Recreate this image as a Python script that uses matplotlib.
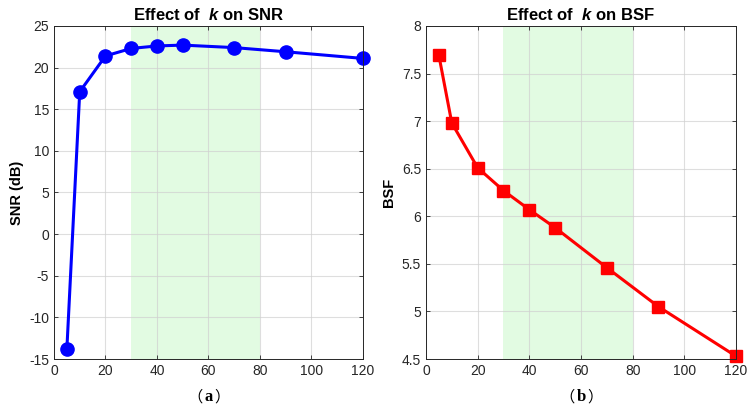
import matplotlib.pyplot as plt

k = [5, 10, 20, 30, 40, 50, 70, 90, 120]
snr = [-13.8, 17.1, 21.4, 22.3, 22.6, 22.7, 22.4, 21.9, 21.1]
bsf = [7.69, 6.98, 6.51, 6.27, 6.07, 5.88, 5.46, 5.05, 4.53]
band = (30, 80)

plt.rcParams['font.family'] = ['Liberation Sans', 'Noto Sans CJK SC']
plt.rcParams['font.size'] = 10
plt.rcParams['axes.unicode_minus'] = False
plt.rcParams['mathtext.fontset'] = 'custom'
plt.rcParams['mathtext.bfit'] = 'Liberation Sans:italic:bold'

fig = plt.figure(figsize=(7.53, 4.12), dpi=100)
ax1 = fig.add_axes([0.0717, 0.1286, 0.4103, 0.8084])
ax2 = fig.add_axes([0.5657, 0.1286, 0.4117, 0.8084])


def style(ax):
    ax.axvspan(*band, color='#e2fbe2', zorder=0, lw=0)
    ax.grid(True, color='#d0d0d0', lw=0.8, alpha=0.7)
    ax.set_axisbelow(True)
    ax.tick_params(direction='in', top=True, right=True, colors='#262626',
                   length=3, width=0.6, labelcolor='#262626')
    for s in ax.spines.values():
        s.set_color('#262626')
        s.set_linewidth(0.7)
    ax.set_xlim(0, 120)
    ax.set_xticks(range(0, 121, 20))


style(ax1)
ax1.plot(k, snr, color='#0000ff', lw=2.2, marker='o', markersize=9.5, clip_on=False)
ax1.set_ylim(-15, 25)
ax1.set_yticks(range(-15, 26, 5))
ax1.set_ylabel('SNR (dB)', fontweight='bold', fontsize=10.5)
ax1.set_title(r'Effect of  $\bfit{k}$ on SNR', fontweight='bold', fontsize=12, pad=4)

style(ax2)
ax2.plot(k, bsf, color='#ff0000', lw=2.2, marker='s', markersize=8, clip_on=False)
ax2.set_ylim(4.5, 8)
ax2.set_yticks([4.5, 5, 5.5, 6, 6.5, 7, 7.5, 8])
ax2.set_yticklabels(['4.5', '5', '5.5', '6', '6.5', '7', '7.5', '8'])
ax2.set_ylabel('BSF', fontweight='bold', fontsize=10.5)
ax2.set_title(r'Effect of  $\bfit{k}$ on BSF', fontweight='bold', fontsize=12, pad=4)

for ax, lab in [(ax1, 'a'), (ax2, 'b')]:
    y = -0.113
    ax.text(0.5, y, lab, transform=ax.transAxes, ha='center', va='center',
            fontsize=12, fontweight='bold', family='Liberation Serif')
    ax.text(0.48, y, '（', transform=ax.transAxes, ha='right', va='center',
            fontsize=11, family='Noto Sans CJK SC')
    ax.text(0.52, y, '）', transform=ax.transAxes, ha='left', va='center',
            fontsize=11, family='Noto Sans CJK SC')

fig.savefig('out.png', dpi=100)
